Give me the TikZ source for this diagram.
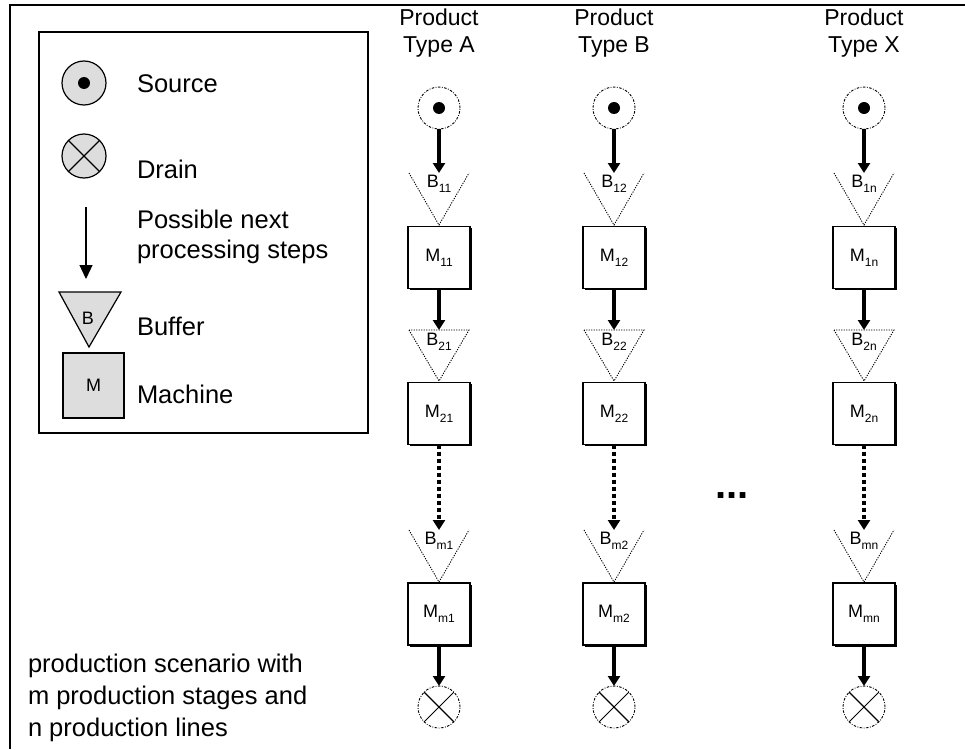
\documentclass[tikz,border=0pt]{standalone}
\usepackage{fontspec}
\setmainfont{Liberation Sans}
\usetikzlibrary{arrows.meta,shadows}
\definecolor{legfill}{HTML}{DDDDDD}
% label with a lowered small index, e.g. \lab{M}{11}
\newcommand\lab[2]{#1\raisebox{-0.28em}{\fontsize{12}{12}\selectfont #2}}
\begin{document}
\begin{tikzpicture}[x=1pt,y=-1pt,
  every node/.style={inner sep=0pt,outer sep=0pt},
  legtext/.style={anchor=base west,font=\fontsize{25.5}{30}\selectfont},
  small/.style={font=\fontsize{18}{18}\selectfont},
  ttl/.style={anchor=base,font=\fontsize{23}{27}\selectfont},
  legshape/.style={draw,fill=legfill,line width=1.2pt},
  legarrow/.style={line width=1.3pt,-{Triangle[length=14pt,width=13pt]}},
  flow/.style={line width=3.4pt,-{Triangle[length=10pt,width=12pt]}},
  flowgap/.style={flow,dash pattern=on 4pt off 3pt},
  dashring/.style={circle,draw,line width=0.9pt,dash pattern=on 2.5pt off 1.5pt on 0.8pt off 1.5pt,minimum size=42pt},
  bufline/.style={line width=0.9pt,dash pattern=on 1.2pt off 1.3pt},
  mach/.style={draw,fill=white,line width=1.2pt,minimum size=62pt,small,
    drop shadow={shadow xshift=1.6pt,shadow yshift=-1.6pt,fill=black,opacity=1}}]
\useasboundingbox (0,0) rectangle (965,749);

% outer frame (only its top and left edges lie on the page)
\draw[line width=2.5pt] (10,749) -- (10,5) -- (965,5);

% ---------------- legend ----------------
\node[draw,line width=1.3pt,anchor=north west,minimum width=329pt,minimum height=401pt] (legend) at (39,32) {};

\node[legshape,circle,minimum size=44pt] (lsrc) at (84,83) {};
\node[circle,fill=black,minimum size=12pt] (lsrcdot) at (lsrc.center) {};
\node[legtext] (tsrc) at (137,93) {Source};

\node[legshape,circle,minimum size=44pt] (ldrn) at (84,156) {};
\draw[line width=1.2pt] (ldrn.north west) -- (ldrn.south east);
\draw[line width=1.2pt] (ldrn.north east) -- (ldrn.south west);
\node[legtext] (tdrn) at (137,178) {Drain};

\coordinate (la1) at (86,207);
\coordinate (la2) at (86,279);
\draw[legarrow] (la1) -- (la2);
\node[legtext] (tnext1) at (137,228) {Possible next};
\node[legtext] (tnext2) at (137,258) {processing steps};

\draw[legshape] (59,292) -- (121,292) -- (89,347) -- cycle;
\node[small] (lbuf) at (88,318) {B};
\node[legtext] (tbuf) at (137,335) {Buffer};

\node[legshape,anchor=north west,minimum width=61pt,minimum height=65pt,small] (lmach) at (63,353) {M};
\node[legtext] (tmach) at (137,403) {Machine};

% ---------------- production lines ----------------
\foreach \x/\c/\t in {439/1/A,614/2/B,864/n/X}{
  \node[ttl] (T\c a) at (\x,26) {Product};
  \node[ttl] (T\c b) at (\x,53) {Type \t};

  % source
  \node[dashring] (S\c) at (\x,108) {};
  \node[circle,fill=black,minimum size=12pt] (S\c dot) at (S\c.center) {};

  % stage 1
  \coordinate (B1\c t) at (\x,173);
  \draw[bufline] (\x-30,173) -- (\x,225) -- (\x+30,173);
  \node[small] (B1\c) at (\x,184) {\lab{B}{1\c}};
  \node[mach] (M1\c) at (\x,257.5) {\lab{M}{1\c}};

  % stage 2
  \coordinate (B2\c t) at (\x,330);
  \draw[bufline] (\x-30,330) -- (\x,381) -- (\x+30,330) -- cycle;
  \node[small] (B2\c) at (\x,342) {\lab{B}{2\c}};
  \node[mach] (M2\c) at (\x,413.5) {\lab{M}{2\c}};

  % stage m
  \coordinate (Bm\c t) at (\x,530);
  \draw[bufline] (\x-30,530) -- (\x,582) -- (\x+30,530);
  \node[small] (Bm\c) at (\x,541) {\lab{B}{m\c}};
  \node[mach] (Mm\c) at (\x,614) {\lab{M}{m\c}};

  % drain
  \node[dashring] (D\c) at (\x,707) {};
  \draw[line width=1.4pt] (D\c.north west) -- (D\c.south east);
  \draw[line width=0.8pt] (D\c.north east) -- (D\c.south west);

  % flow between the steps
  \draw[flow] (S\c.south) -- (B1\c t);
  \draw[flow] (M1\c.south) -- (B2\c t);
  \draw[flowgap] (M2\c.south) -- (Bm\c t);
  \draw[flow] (Mm\c.south) -- (D\c.north);
}

% further lines in between
\node[anchor=base,font=\fontsize{40}{40}\selectfont\bfseries] (more) at (732,498) {...};

% caption
\node[legtext] (cap1) at (28,672) {production scenario with};
\node[legtext] (cap2) at (28,704) {m production stages and};
\node[legtext] (cap3) at (28,736) {n production lines};
\end{tikzpicture}
\end{document}
